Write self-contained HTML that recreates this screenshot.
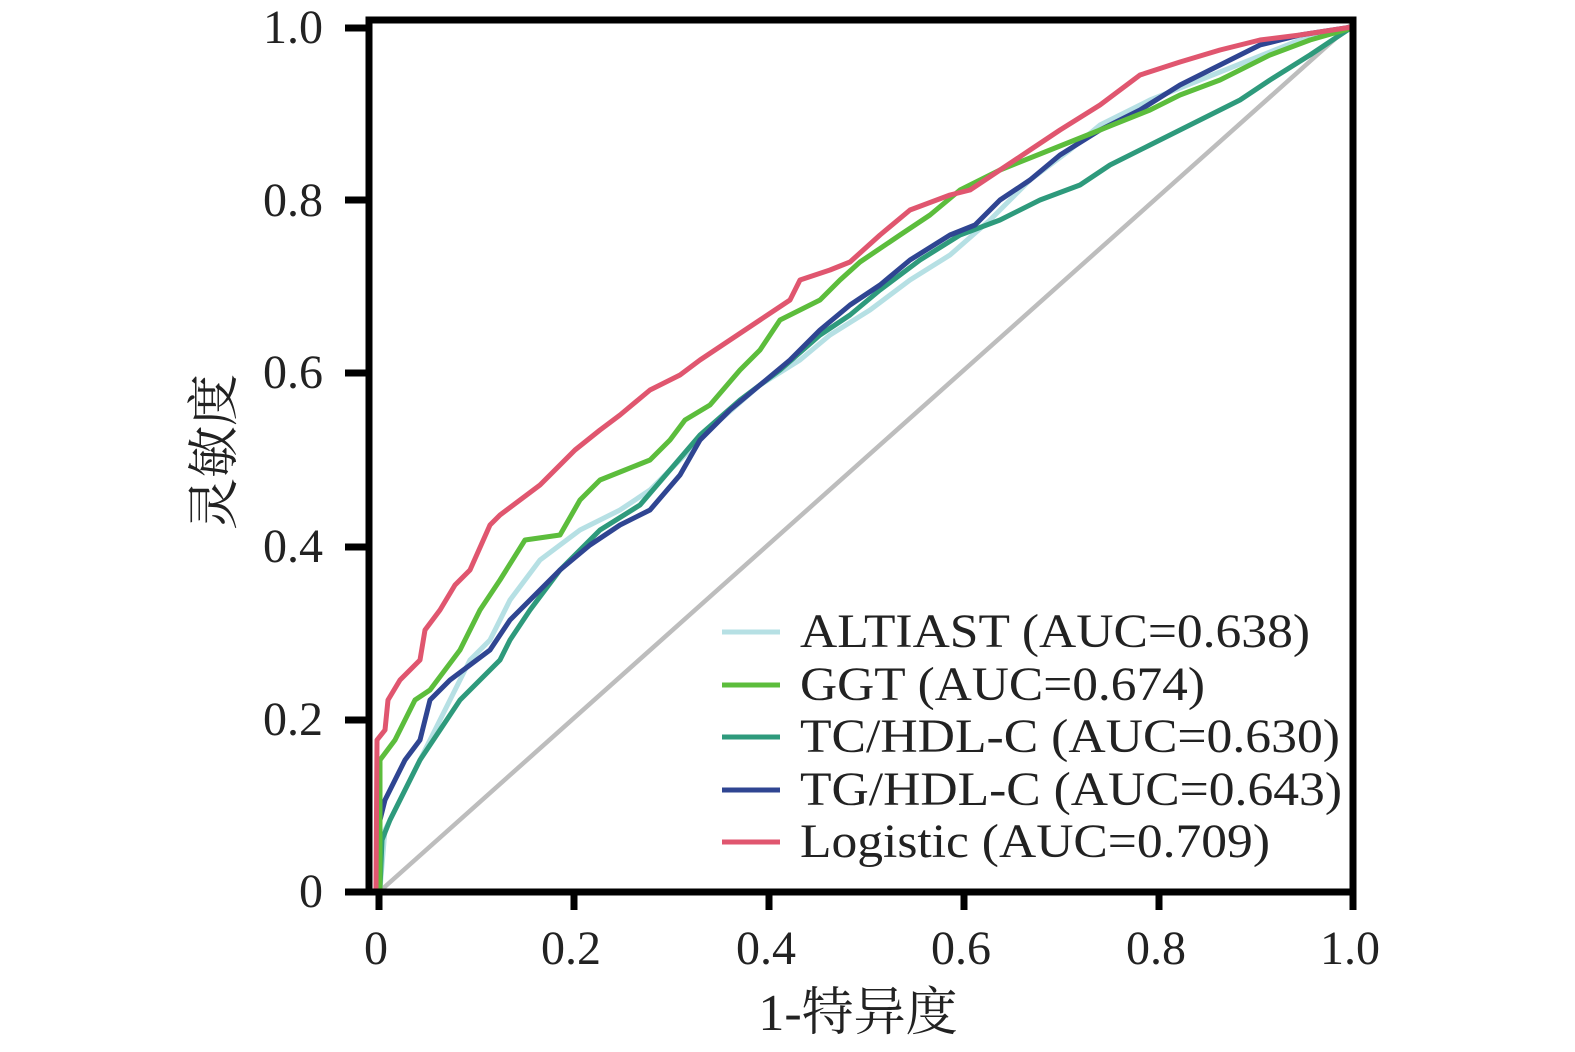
<!DOCTYPE html>
<html><head><meta charset="utf-8"><style>body{margin:0;background:#fff}svg{display:block}</style></head><body>
<svg width="1575" height="1052" viewBox="0 0 1575 1052" xmlns="http://www.w3.org/2000/svg" font-family="'Liberation Serif','Noto Serif CJK SC',serif">
<rect width="1575" height="1052" fill="#fff"/>
<g fill="none" stroke-width="5" stroke-linejoin="round">
<line x1="379" y1="892" x2="1354" y2="22" stroke="#bdbdbd" stroke-width="4.5"/>
<polyline stroke="#b6e0e4" points="380,889 385,830 400,800 420,760 440,720 470,660 490,640 510,600 540,560 580,530 620,510 650,490 680,460 720,420 760,385 800,360 830,335 870,310 910,280 950,255 990,220 1030,180 1070,150 1100,125 1150,100 1200,80 1250,60 1300,40 1352,27"/>
<polyline stroke="#2e9a7c" points="380,889 382,840 390,820 405,790 420,760 440,730 460,700 480,680 500,660 510,640 530,610 560,570 600,530 640,505 670,470 700,435 740,400 780,370 820,335 850,315 880,290 920,260 960,235 1000,220 1040,200 1080,185 1110,165 1150,145 1200,120 1240,100 1270,80 1310,55 1352,27"/>
<polyline stroke="#2f4592" points="378,889 380,820 385,800 395,780 405,760 420,740 430,700 450,680 470,665 490,650 510,620 530,600 560,570 590,545 620,525 650,510 680,475 700,440 730,410 760,385 790,360 820,330 850,305 880,285 910,260 950,235 975,225 1000,200 1030,180 1060,155 1100,130 1140,110 1180,85 1220,65 1260,45 1300,35 1352,27"/>
<polyline stroke="#5cbd3c" points="380,889 380,760 395,740 405,720 415,700 430,690 445,670 460,650 480,610 500,580 525,540 560,535 580,500 600,480 625,470 650,460 670,440 685,420 710,405 740,370 760,350 780,320 820,300 840,280 860,262 900,235 930,215 960,190 1000,170 1050,150 1100,130 1150,110 1180,95 1220,80 1270,55 1310,40 1352,28"/>
<polyline stroke="#e0566f" points="376,889 377,740 385,730 388,700 400,680 420,660 425,630 440,610 455,585 470,570 490,525 500,515 520,500 540,485 560,465 575,450 600,430 620,415 650,390 680,375 700,360 730,340 760,320 790,300 800,280 830,270 850,262 880,235 910,210 950,195 970,190 1000,170 1030,150 1060,130 1100,105 1140,75 1180,62 1220,50 1260,40 1300,35 1352,27"/>
</g>
<g stroke="#000" stroke-width="7" fill="none">
<rect x="369" y="20" width="984" height="872"/>
<line x1="345" y1="892" x2="369" y2="892"/><line x1="345" y1="720" x2="369" y2="720"/><line x1="345" y1="547" x2="369" y2="547"/><line x1="345" y1="373" x2="369" y2="373"/><line x1="345" y1="200" x2="369" y2="200"/><line x1="345" y1="28" x2="369" y2="28"/>
<line x1="379" y1="892" x2="379" y2="910"/><line x1="574" y1="892" x2="574" y2="910"/><line x1="769" y1="892" x2="769" y2="910"/><line x1="964" y1="892" x2="964" y2="910"/><line x1="1159" y1="892" x2="1159" y2="910"/><line x1="1353" y1="892" x2="1353" y2="910"/>
</g>
<g font-size="48" fill="#222" text-anchor="end">
<text x="323" y="907">0</text><text x="323" y="735">0.2</text><text x="323" y="562">0.4</text><text x="323" y="388">0.6</text><text x="323" y="216">0.8</text><text x="323" y="43">1.0</text>
</g>
<g font-size="48" fill="#222" text-anchor="middle">
<text x="376" y="964">0</text><text x="571" y="964">0.2</text><text x="766" y="964">0.4</text><text x="961" y="964">0.6</text><text x="1156" y="964">0.8</text><text x="1350" y="964">1.0</text>
<text x="858" y="1030" font-size="52">1-特异度</text>
<text transform="translate(232,452) rotate(-90)" font-size="52">灵敏度</text>
</g>
<g stroke-width="5">
<line x1="722" y1="632" x2="780" y2="632" stroke="#b6e0e4"/>
<line x1="722" y1="685" x2="780" y2="685" stroke="#5cbd3c"/>
<line x1="722" y1="737" x2="780" y2="737" stroke="#2e9a7c"/>
<line x1="722" y1="790" x2="780" y2="790" stroke="#2f4592"/>
<line x1="722" y1="842" x2="780" y2="842" stroke="#e0566f"/>
</g>
<g font-size="48" fill="#222" lengthAdjust="spacingAndGlyphs">
<text x="800" y="647" textLength="510" lengthAdjust="spacingAndGlyphs">ALTIAST (AUC=0.638)</text>
<text x="800" y="700" textLength="405" lengthAdjust="spacingAndGlyphs">GGT (AUC=0.674)</text>
<text x="800" y="752" textLength="540" lengthAdjust="spacingAndGlyphs">TC/HDL-C (AUC=0.630)</text>
<text x="800" y="805" textLength="542" lengthAdjust="spacingAndGlyphs">TG/HDL-C (AUC=0.643)</text>
<text x="800" y="857" textLength="470" lengthAdjust="spacingAndGlyphs">Logistic (AUC=0.709)</text>
</g>
</svg>
</body></html>
